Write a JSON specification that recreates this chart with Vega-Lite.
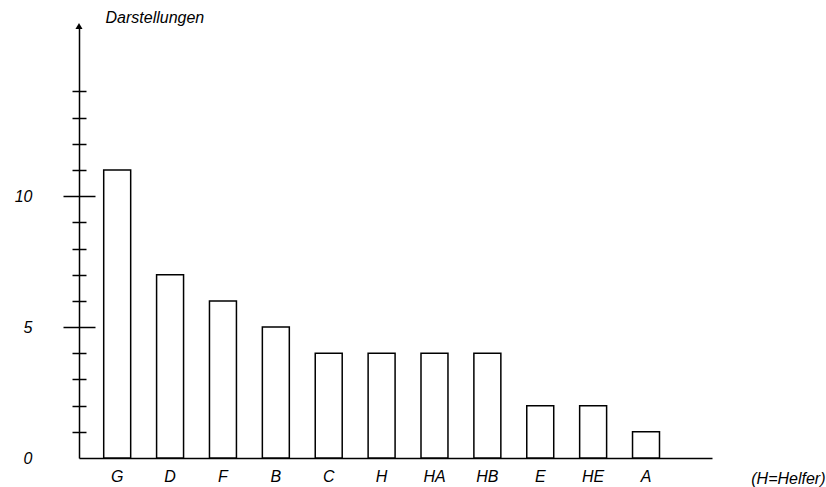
{
  "$schema": "https://vega.github.io/schema/vega-lite/v6.json",
  "width": 633,
  "height": 432,
  "autosize": {"type": "none"},
  "padding": {"left": 79, "top": 26, "right": 114, "bottom": 29},
  "background": "white",
  "config": {"view": {"stroke": null}, "font": "Liberation Sans"},
  "resolve": {"axis": {"y": "independent"}},
  "layer": [
    {
      "data": {
        "values": [
          {"Darsteller": "G", "Anzahl": 11},
          {"Darsteller": "D", "Anzahl": 7},
          {"Darsteller": "F", "Anzahl": 6},
          {"Darsteller": "B", "Anzahl": 5},
          {"Darsteller": "C", "Anzahl": 4},
          {"Darsteller": "H", "Anzahl": 4},
          {"Darsteller": "HA", "Anzahl": 4},
          {"Darsteller": "HB", "Anzahl": 4},
          {"Darsteller": "E", "Anzahl": 2},
          {"Darsteller": "HE", "Anzahl": 2},
          {"Darsteller": "A", "Anzahl": 1}
        ]
      },
      "mark": {"type": "bar", "fill": "white", "stroke": "black", "strokeWidth": 1.5},
      "encoding": {
        "x": {
          "field": "Darsteller",
          "type": "nominal",
          "sort": null,
          "scale": {"paddingInner": 0.49, "paddingOuter": 0.73, "align": 0.32},
          "axis": {
            "title": "(H=Helfer)",
            "labelAngle": 0,
            "ticks": false,
            "domainColor": "black",
            "domainWidth": 1.5,
            "labelFontStyle": "italic",
            "labelFontSize": 16,
            "labelColor": "black",
            "labelPadding": 10,
            "titleFontStyle": "italic",
            "titleFontWeight": "normal",
            "titleFontSize": 16,
            "titleColor": "black",
            "titleAlign": "right",
            "titleX": 746,
            "titleY": 12,
            "titleBaseline": "top"
          }
        },
        "y": {
          "field": "Anzahl",
          "type": "quantitative",
          "scale": {"domain": [0, 16.5], "nice": false},
          "axis": {
            "orient": "left",
            "values": [0, 1, 2, 3, 4, 5, 6, 7, 8, 9, 10, 11, 12, 13, 14],
            "labelExpr": "datum.value % 5 === 0 ? datum.label : ''",
            "grid": false,
            "domainColor": "black",
            "domainWidth": 1.5,
            "tickColor": "black",
            "tickWidth": 1.5,
            "tickSize": {"condition": {"test": "datum.value % 5 === 0", "value": 16}, "value": 7},
            "tickOpacity": {"condition": {"test": "datum.value === 0", "value": 0}, "value": 1},
            "labelPadding": 31,
            "labelFontStyle": "italic",
            "labelFontSize": 16,
            "labelColor": "black",
            "title": "Darstellungen",
            "titleAngle": 0,
            "titleAlign": "left",
            "titleBaseline": "alphabetic",
            "titleX": 26,
            "titleY": -4,
            "titleFontStyle": "italic",
            "titleFontWeight": "normal",
            "titleFontSize": 16,
            "titleColor": "black"
          }
        }
      }
    },
    {
      "data": {"values": [{"Spitze": 16.5}]},
      "mark": {"type": "point", "shape": "triangle-up", "filled": true, "color": "black", "size": 50, "opacity": 1},
      "encoding": {
        "x": {"value": 0},
        "y": {
          "field": "Spitze",
          "type": "quantitative",
          "axis": {
            "orient": "left",
            "values": [1, 2, 3, 4, 5, 6, 7, 8, 9, 10, 11, 12, 13, 14],
            "labels": false,
            "domain": false,
            "grid": false,
            "title": null,
            "tickColor": "black",
            "tickWidth": 1.5,
            "tickSize": {"condition": {"test": "datum.value % 5 === 0", "value": -16}, "value": -7}
          }
        }
      }
    }
  ]
}
